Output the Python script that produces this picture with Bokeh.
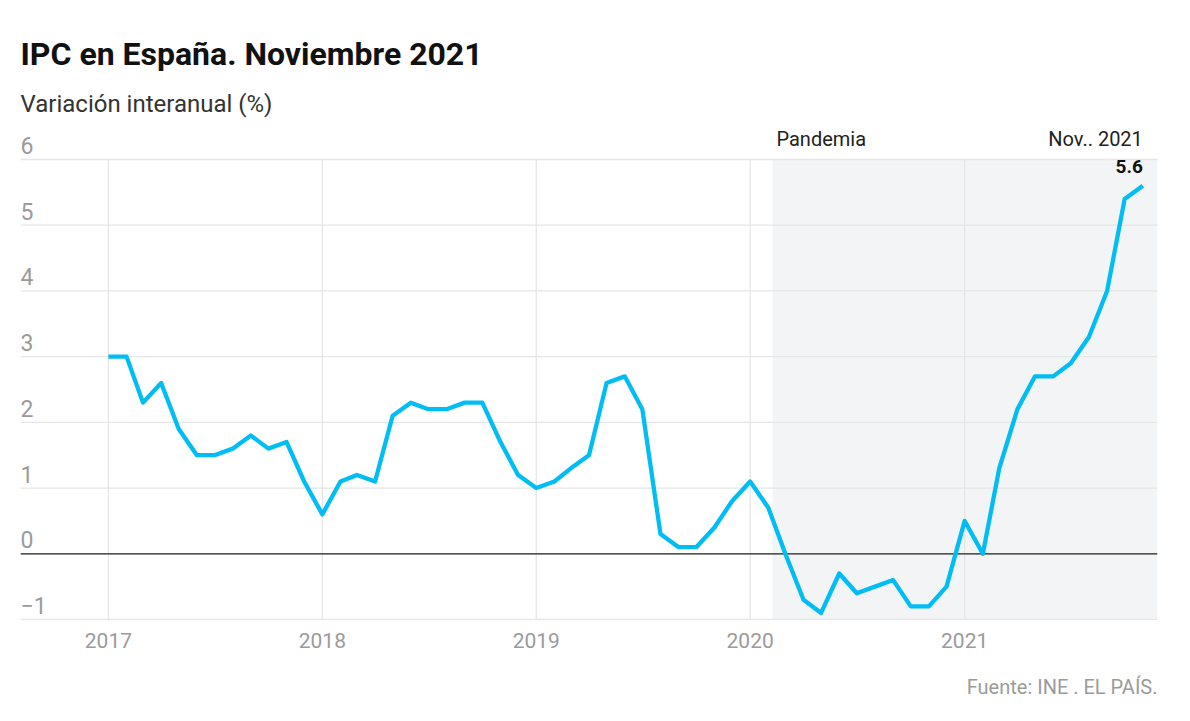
import pandas as pd
from datetime import datetime
from bokeh.plotting import figure
from bokeh.models import Range1d, FixedTicker, DatetimeTickFormatter, Title
from bokeh.core.properties import value
from bokeh.embed import file_html
from bokeh.resources import INLINE

# ---- data ----
months = pd.date_range("2017-01-01", "2021-11-01", freq="MS")
ipc = [3.0, 3.0, 2.3, 2.6, 1.9, 1.5, 1.5, 1.6, 1.8, 1.6, 1.7, 1.1,
       0.6, 1.1, 1.2, 1.1, 2.1, 2.3, 2.2, 2.2, 2.3, 2.3, 1.7, 1.2,
       1.0, 1.1, 1.3, 1.5, 2.6, 2.7, 2.2, 0.3, 0.1, 0.1, 0.4, 0.8,
       1.1, 0.7, 0.0, -0.7, -0.9, -0.3, -0.6, -0.5, -0.4, -0.8, -0.8, -0.5,
       0.5, 0.0, 1.3, 2.2, 2.7, 2.7, 2.9, 3.3, 4.0, 5.4, 5.6]
years = [2017, 2018, 2019, 2020, 2021]
y_ticks = [-1, 0, 1, 2, 3, 4, 5, 6]
y_tick_labels = ["\u22121", "0", "1", "2", "3", "4", "5", "6"]
pandemic_start = datetime(2020, 2, 8)
pandemic_label = "Pandemia"
last_label = "Nov.. 2021"
last_value_label = "5.6"
title_text = "IPC en España. Noviembre 2021"
subtitle_text = "Variación interanual (%)"
source_text = "Fuente: INE . EL PAÍS."

x_start = datetime(2016, 8, 4)
x_end = datetime(2021, 11, 26)
year_dates = [datetime(y, 1, 1) for y in years]
year_ms = [(d - datetime(1970, 1, 1)).total_seconds() * 1000 for d in year_dates]

FONT = "Roboto"
GRID = "#e6e6e6"
GRAY = "#9b9b9b"

p = figure(width=1180, height=721, x_axis_type="datetime", y_axis_location=None,
           title=None,
           x_range=Range1d(x_start, x_end), y_range=Range1d(-1.0152, 6.4565),
           output_backend="svg", toolbar_location=None,
           min_border_left=20, min_border_right=23, min_border_top=129, min_border_bottom=101)
p.outline_line_color = None
p.background_fill_color = "white"
p.xgrid.visible = False
p.ygrid.visible = False

# pandemic shading
p.quad(left=[pandemic_start], right=[x_end], bottom=[-1], top=[6],
       fill_color="#f3f4f6", line_color=None)

# gridlines
p.segment(x0=[x_start] * len(y_ticks), y0=y_ticks, x1=[x_end] * len(y_ticks), y1=y_ticks,
          line_color=GRID, line_width=1.3)
p.segment(x0=year_dates, y0=[-1] * len(years), x1=year_dates, y1=[6] * len(years),
          line_color=GRID, line_width=1.3)
# zero line
p.segment(x0=[x_start], y0=[0], x1=[x_end], y1=[0], line_color="#222222", line_width=1.2)

# data line
p.line(x=months, y=ipc, line_color="#00bdf4", line_width=4.3, line_join="round")

# y tick labels (inside plot, above gridlines)
p.text(x=[x_start] * len(y_ticks), y=y_ticks, text=y_tick_labels,
       text_align="left", text_baseline="alphabetic", y_offset=-14,
       text_font=value(FONT), text_font_size="23px", text_color=GRAY)

# annotations
p.text(x=[pandemic_start], y=[6], text=[pandemic_label], x_offset=4, y_offset=-20,
       text_align="left", text_baseline="alphabetic",
       text_font=value(FONT), text_font_size="20px", text_color="#222222")
p.text(x=[months[-1]], y=[6], text=[last_label], y_offset=-20,
       text_align="right", text_baseline="alphabetic",
       text_font=value(FONT), text_font_size="20px", text_color="#222222")
p.text(x=[months[-1]], y=[ipc[-1]], text=[last_value_label], y_offset=-19,
       text_align="right", text_baseline="alphabetic",
       text_font=value(FONT), text_font_size="19px", text_font_style="bold",
       text_color="#111111")

# x axis
ax = p.xaxis[0]
ax.ticker = FixedTicker(ticks=year_ms)
ax.formatter = DatetimeTickFormatter(years="%Y", months="%Y", days="%Y", hours="%Y",
                                     minutes="%Y", seconds="%Y", milliseconds="%Y",
                                     microseconds="%Y", minsec="%Y", hourmin="%Y")
ax.axis_line_color = None
ax.major_tick_line_color = None
ax.minor_tick_line_color = None
ax.major_label_text_font = FONT
ax.major_label_text_font_size = "21px"
ax.major_label_text_color = GRAY
ax.major_label_standoff = 6

# titles & source
p.add_layout(Title(text=subtitle_text, align="left", text_font=FONT,
                   text_font_size="24px", text_font_style="normal",
                   text_color="#333333", standoff=24), "above")
p.add_layout(Title(text=title_text, align="left", text_font=FONT,
                   text_font_size="32px", text_font_style="bold",
                   text_color="#111111", standoff=6), "above")
p.add_layout(Title(text=source_text, align="right", text_font=FONT,
                   text_font_size="20px", text_font_style="normal",
                   text_color=GRAY, standoff=44), "below")

open("out.html", "w").write(file_html(p, INLINE))
